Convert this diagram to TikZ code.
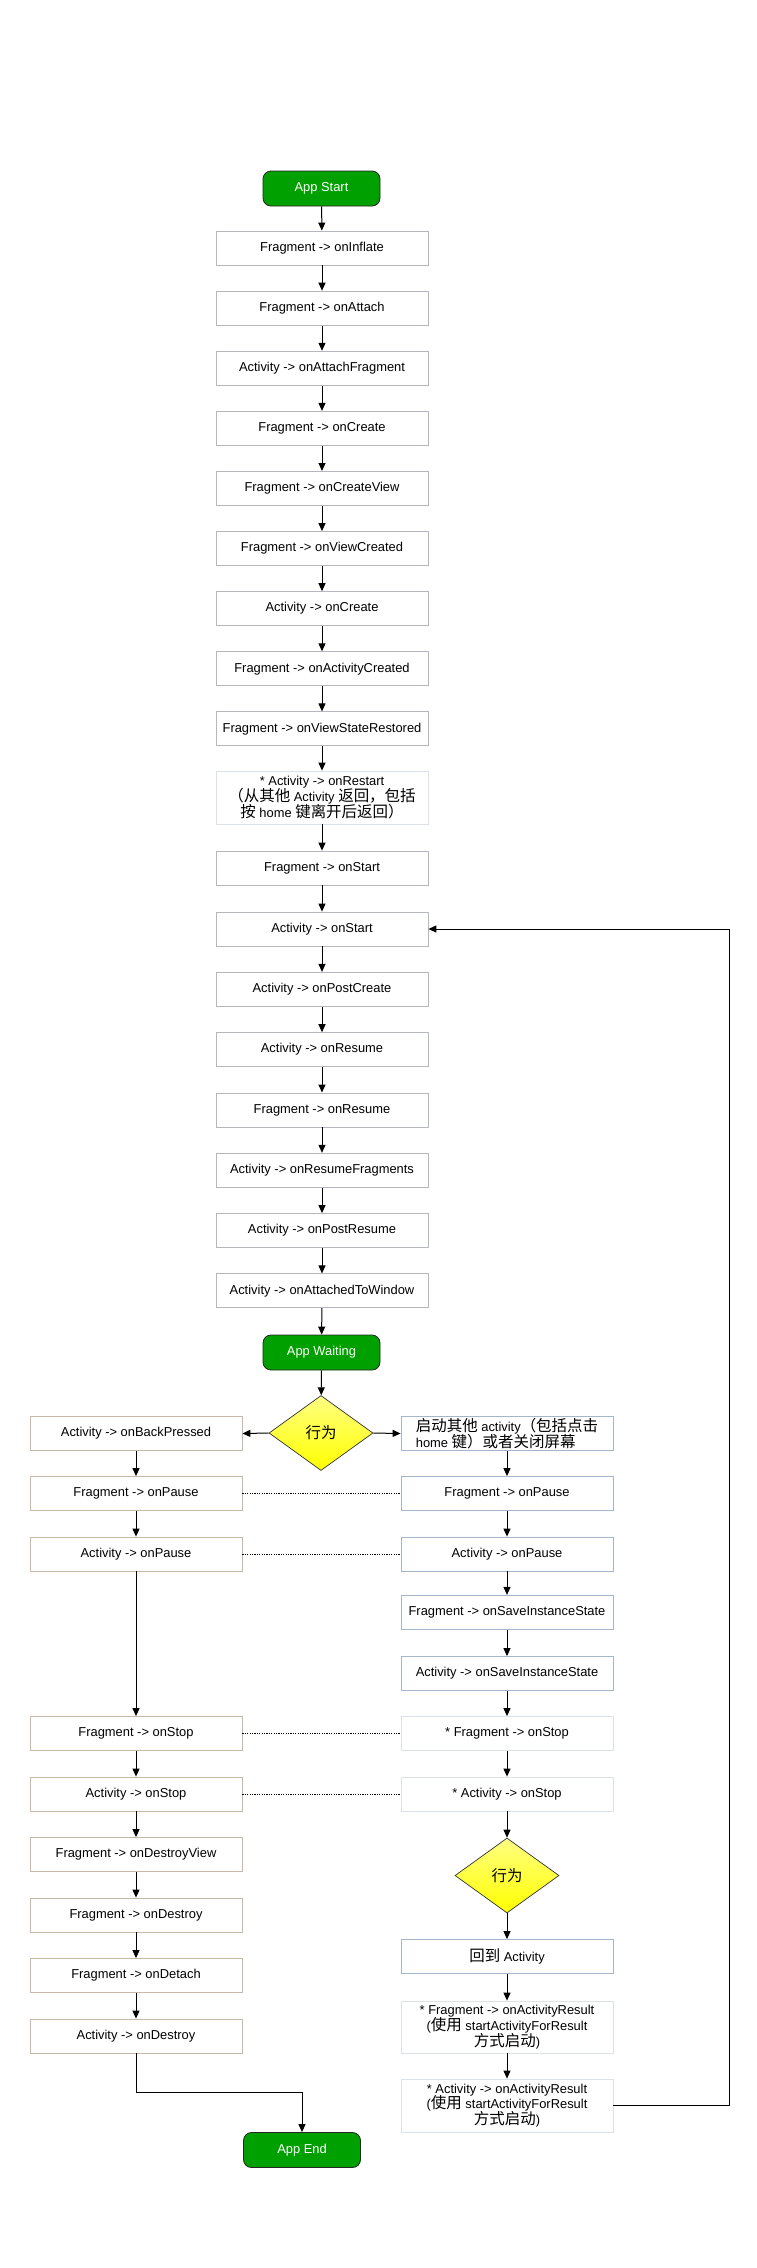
\documentclass[tikz,border=0pt]{standalone}
\usepackage{fontspec}
\setmainfont{Liberation Sans}
\newfontfamily\cjk[Scale=1.2]{Noto Sans CJK SC}
\newcommand\zh[1]{{\cjk #1}}
\newcommand\boxfont{\fontsize{12.9}{15.8}\selectfont\lineskiplimit=-100pt\relax}
\usetikzlibrary{shapes.geometric,arrows.meta}
\definecolor{termgreen}{RGB}{0,160,0}
\definecolor{mainborder}{RGB}{180,184,190}
\definecolor{leftborder}{RGB}{200,184,166}
\definecolor{rightborder}{RGB}{166,182,202}
\definecolor{lightborder}{RGB}{220,226,232}
\definecolor{dtop}{RGB}{255,255,130}
\definecolor{dbot}{RGB}{255,255,0}
\begin{document}
\begin{tikzpicture}[x=1pt,y=-1pt,
  font=\boxfont,
  basebox/.style={fill=white, minimum width=212pt, minimum height=34pt, inner sep=0pt, line width=0.8pt, align=center},
  mbox/.style={basebox, draw=mainborder},
  lbox/.style={basebox, draw=leftborder},
  rbox/.style={basebox, draw=rightborder},
  sbox/.style={basebox, draw=lightborder},
  term/.style={draw=black!85, line width=0.8pt, fill=termgreen, rounded corners=8pt, minimum width=117pt, minimum height=35pt, inner sep=0pt, text=white},
  decision/.style={diamond, draw=black!80, line width=0.7pt, top color=dtop, bottom color=dbot, minimum width=104pt, minimum height=75pt, inner sep=0pt},
  arr/.style={-{Triangle[length=8pt,width=7pt]}, line width=1pt},
  dotline/.style={draw=black, dash pattern=on 1.2pt off 1.2pt, line width=0.9pt}
]
\useasboundingbox (0,0) rectangle (756,2268);

% main column
\node[term] (start) at (321.5,188.5) {App Start};
\node[mbox] (m1) at (322,248) {Fragment -> onInflate};
\node[mbox] (m2) at (322,308.1) {Fragment -> onAttach};
\node[mbox] (m3) at (322,368.2) {Activity -> onAttachFragment};
\node[mbox] (m4) at (322,428.3) {Fragment -> onCreate};
\node[mbox] (m5) at (322,488.4) {Fragment -> onCreateView};
\node[mbox] (m6) at (322,548.5) {Fragment -> onViewCreated};
\node[mbox] (m7) at (322,608.6) {Activity -> onCreate};
\node[mbox] (m8) at (322,668.7) {Fragment -> onActivityCreated};
\node[mbox] (m9) at (322,728.8) {Fragment -> onViewStateRestored};
\node[sbox, minimum height=53pt] (m10) at (322,797.5) {* Activity -> onRestart\\\zh{（从其他} Activity \zh{返回，包括}\\\zh{按} home \zh{键离开后返回）}};
\node[mbox] (m11) at (322,868) {Fragment -> onStart};
\node[mbox] (m12) at (322,929) {Activity -> onStart};
\node[mbox] (m13) at (322,989.3) {Activity -> onPostCreate};
\node[mbox] (m14) at (322,1049.6) {Activity -> onResume};
\node[mbox] (m15) at (322,1109.9) {Fragment -> onResume};
\node[mbox] (m16) at (322,1170.2) {Activity -> onResumeFragments};
\node[mbox] (m17) at (322,1230.5) {Activity -> onPostResume};
\node[mbox] (m18) at (322,1290.8) {Activity -> onAttachedToWindow};
\node[term] (wait) at (321.5,1352.5) {App Waiting};
\node[decision] (d1) at (321,1433) {\zh{行为}};

% left column
\node[lbox] (l1) at (136,1433.5) {Activity -> onBackPressed};
\node[lbox] (l2) at (136,1493.5) {Fragment -> onPause};
\node[lbox] (l3) at (136,1554) {Activity -> onPause};
\node[lbox] (l4) at (136,1733.5) {Fragment -> onStop};
\node[lbox] (l5) at (136,1794) {Activity -> onStop};
\node[lbox] (l6) at (136,1854.5) {Fragment -> onDestroyView};
\node[lbox] (l7) at (136,1915) {Fragment -> onDestroy};
\node[lbox] (l8) at (136,1975.5) {Fragment -> onDetach};
\node[lbox] (l9) at (136,2036) {Activity -> onDestroy};
\node[term] (end) at (302,2150) {App End};

% right column
\node[rbox, align=left] (r1) at (507,1433.5) {\zh{启动其他} activity\zh{（包括点击}\\home \zh{键）或者关闭屏幕}};
\node[rbox] (r2) at (507,1493.5) {Fragment -> onPause};
\node[rbox] (r3) at (507,1554) {Activity -> onPause};
\node[rbox] (r4) at (507,1612.3) {Fragment -> onSaveInstanceState};
\node[rbox] (r5) at (507,1673.5) {Activity -> onSaveInstanceState};
\node[sbox] (r6) at (507,1733.5) {* Fragment -> onStop};
\node[sbox] (r7) at (507,1794) {* Activity -> onStop};
\node[decision] (d2) at (507,1875.5) {\zh{行为}};
\node[rbox] (r8) at (507,1956.5) {\zh{回到} Activity};
\node[sbox, minimum height=52pt] (r9) at (507,2027) {* Fragment -> onActivityResult\\(\zh{使用} startActivityForResult\\\zh{方式启动})};
\node[sbox, minimum height=53pt] (r10) at (507,2105.5) {* Activity -> onActivityResult\\(\zh{使用} startActivityForResult\\\zh{方式启动})};

\coordinate (lb) at (136,2092);
\coordinate (c1) at (729,2105.5);
\coordinate (c2) at (729,929);

% main connectors
\draw[arr] (start) -- (m1);
\foreach \a/\b in {m1/m2,m2/m3,m3/m4,m4/m5,m5/m6,m6/m7,m7/m8,m8/m9,m9/m10,m10/m11,m11/m12,m12/m13,m13/m14,m14/m15,m15/m16,m16/m17,m17/m18}
  \draw[arr] (\a) -- (\b);
\draw[arr] (m18) -- (wait);
\draw[arr] (wait) -- (d1);
\draw[arr] (d1.west) -- (l1.east);
\draw[arr] (d1.east) -- (r1.west);

% left connectors
\foreach \a/\b in {l1/l2,l2/l3,l3/l4,l4/l5,l5/l6,l6/l7,l7/l8,l8/l9}
  \draw[arr] (\a) -- (\b);
\draw[arr] (l9.south) -- (lb) -| (end.north);

% right connectors
\foreach \a/\b in {r1/r2,r2/r3,r3/r4,r4/r5,r5/r6,r6/r7,r7/d2,d2/r8,r8/r9,r9/r10}
  \draw[arr] (\a) -- (\b);
\draw[arr] (r10.east) -- (c1) -- (c2) -- (m12.east);

% dotted links
\draw[dotline] (l2.east) -- (r2.west);
\draw[dotline] (l3.east) -- (r3.west);
\draw[dotline] (l4.east) -- (r6.west);
\draw[dotline] (l5.east) -- (r7.west);
\end{tikzpicture}
\end{document}
